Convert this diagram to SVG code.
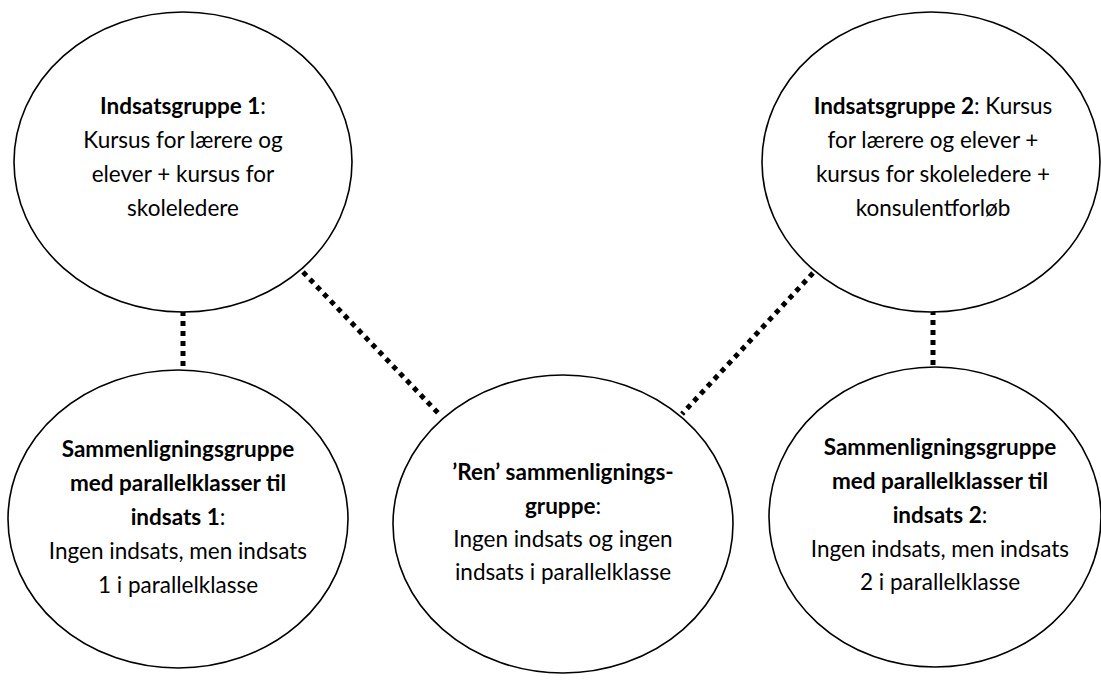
<svg xmlns="http://www.w3.org/2000/svg" width="1101" height="684" viewBox="0 0 1101 684">
<style>
.node{fill:#fff;stroke:#000;stroke-width:1.6}
.t{font-family:Lato,"Liberation Sans",sans-serif;font-size:22.5px;fill:#000;text-anchor:middle}
.b{font-weight:bold}
.c{stroke:#000;stroke-width:5;stroke-dasharray:5 5;fill:none}
</style>
<rect width="1101" height="684" fill="#fff"/>
<g id="connectors">
<line class="c" x1="183" y1="311" x2="183" y2="369"/>
<line class="c" x1="933" y1="310" x2="933" y2="367"/>
<line class="c" x1="303" y1="272" x2="438" y2="413"/>
<line class="c" x1="813" y1="273" x2="682" y2="414"/>
</g>
<g id="indsats1">
<ellipse class="node" cx="183" cy="162" rx="169" ry="150"/>
<text class="t" x="183" y="114"><tspan class="b">Indsatsgruppe 1</tspan>:</text>
<text class="t" x="183" y="148">Kursus for lærere og</text>
<text class="t" x="183" y="182">elever + kursus for</text>
<text class="t" x="183" y="216">skoleledere</text>
</g>
<g id="indsats2">
<ellipse class="node" cx="931" cy="162" rx="169" ry="150"/>
<text class="t" x="933" y="114"><tspan class="b">Indsatsgruppe 2</tspan>: Kursus</text>
<text class="t" x="933" y="148">for lærere og elever +</text>
<text class="t" x="933" y="182">kursus for skoleledere +</text>
<text class="t" x="933" y="216">konsulentforløb</text>
</g>
<g id="sammen1">
<ellipse class="node" cx="178" cy="519" rx="170" ry="149"/>
<text class="t b" x="178" y="457">Sammenligningsgruppe</text>
<text class="t b" x="178" y="491">med parallelklasser til</text>
<text class="t" x="178" y="525"><tspan class="b">indsats 1</tspan>:</text>
<text class="t" x="178" y="559">Ingen indsats, men indsats</text>
<text class="t" x="178" y="593">1 i parallelklasse</text>
</g>
<g id="ren">
<ellipse class="node" cx="563" cy="524" rx="170" ry="149"/>
<text class="t b" x="563" y="480">’Ren’ sammenlignings-</text>
<text class="t" x="563" y="514"><tspan class="b">gruppe</tspan>:</text>
<text class="t" x="563" y="547">Ingen indsats og ingen</text>
<text class="t" x="563" y="580">indsats i parallelklasse</text>
</g>
<g id="sammen2">
<ellipse class="node" cx="935" cy="517" rx="166" ry="150"/>
<text class="t b" x="940" y="455">Sammenligningsgruppe</text>
<text class="t b" x="940" y="489">med parallelklasser til</text>
<text class="t" x="940" y="523"><tspan class="b">indsats 2</tspan>:</text>
<text class="t" x="940" y="557">Ingen indsats, men indsats</text>
<text class="t" x="940" y="590">2 i parallelklasse</text>
</g>
</svg>
